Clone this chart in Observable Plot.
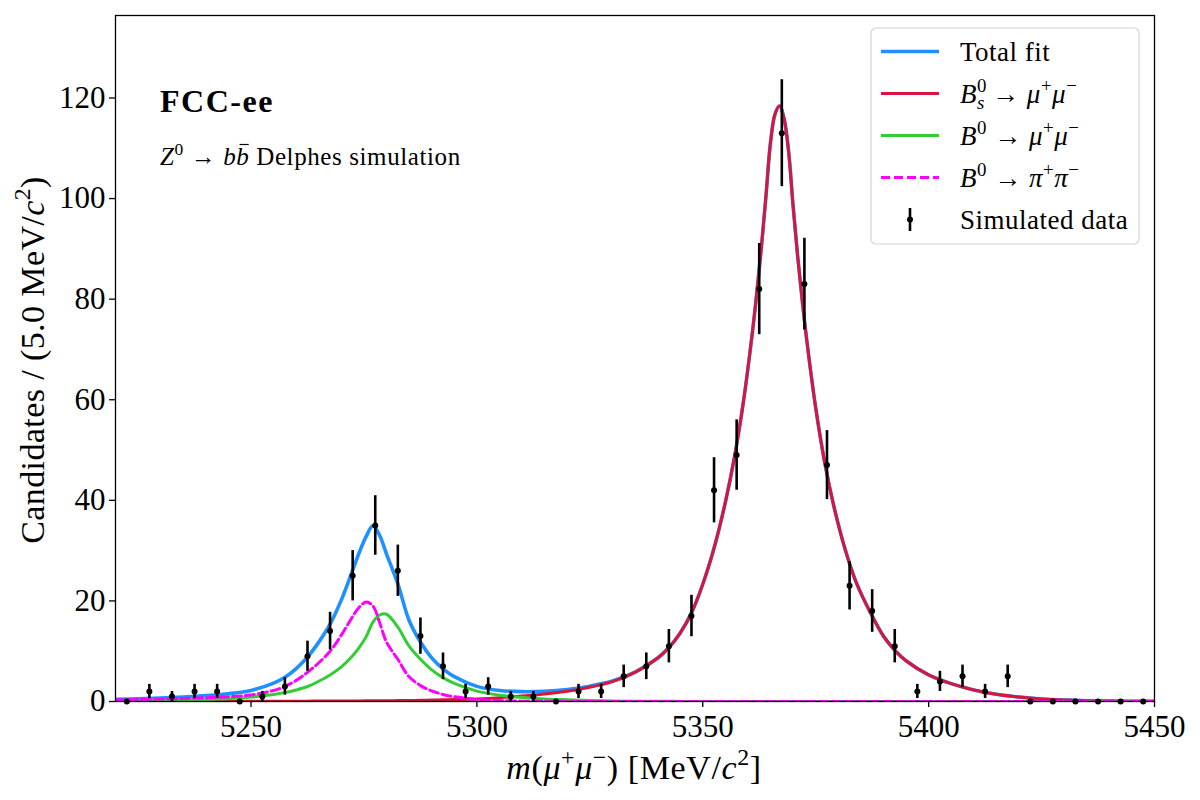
<!DOCTYPE html>
<html>
<head>
<meta charset="utf-8">
<script src="https://cdn.jsdelivr.net/npm/d3@7"></script>
<script src="https://cdn.jsdelivr.net/npm/@observablehq/plot@0.6"></script>
<style>
  html, body { margin: 0; padding: 0; background: #fff; }
  #chart svg { display: block; }
</style>
</head>
<body>
<div id="chart"></div>
<script>
// ---------------- data ----------------
const binCenters = [5222.5, 5227.5, 5232.5, 5237.5, 5242.5, 5247.5, 5252.5, 5257.5, 5262.5, 5267.5,
  5272.5, 5277.5, 5282.5, 5287.5, 5292.5, 5297.5, 5302.5, 5307.5, 5312.5, 5317.5,
  5322.5, 5327.5, 5332.5, 5337.5, 5342.5, 5347.5, 5352.5, 5357.5, 5362.5, 5367.5,
  5372.5, 5377.5, 5382.5, 5387.5, 5392.5, 5397.5, 5402.5, 5407.5, 5412.5, 5417.5,
  5422.5, 5427.5, 5432.5, 5437.5, 5442.5, 5447.5];
const counts = [0, 2, 1, 2, 2, 0, 1, 3, 9, 14,
  25, 35, 26, 13, 7, 2, 3, 1, 1, 0,
  2, 2, 5, 7, 11, 17, 42, 49, 82, 113,
  83, 47, 23, 18, 11, 2, 4, 5, 2, 5,
  0, 0, 0, 0, 0, 0];
const countErrors = [0, 1.41, 1, 1.41, 1.41, 0, 1, 1.73, 3, 3.74,
  5, 5.92, 5.1, 3.61, 2.65, 1.41, 1.73, 1, 1, 0,
  1.41, 1.41, 2.24, 2.65, 3.32, 4.12, 6.48, 7, 9.06, 10.63,
  9.11, 6.86, 4.8, 4.24, 3.32, 1.41, 2, 2.24, 1.41, 2.24,
  0, 0, 0, 0, 0, 0];

const fitMass = [5220, 5225, 5230, 5235, 5240, 5245, 5250, 5255, 5257.5, 5260,
  5262.5, 5265, 5267.5, 5270, 5272.5, 5274, 5275.5, 5277, 5278.5, 5280,
  5282.5, 5285, 5287.5, 5290, 5292.5, 5295, 5300, 5305, 5310, 5315,
  5320, 5325, 5330, 5335, 5340, 5342.5, 5345, 5347.5, 5350, 5352.5,
  5355, 5357, 5359, 5361, 5362, 5363, 5364, 5365, 5366, 5367,
  5368, 5369, 5370, 5371, 5372, 5373, 5375, 5377, 5379, 5381.5,
  5384, 5387.5, 5390, 5392.5, 5395, 5400, 5405, 5410, 5415, 5420,
  5425, 5430, 5435, 5440, 5450];
const fitBs = [0.01, 0.01, 0.02, 0.02, 0.03, 0.03, 0.04, 0.05, 0.05, 0.06,
  0.07, 0.08, 0.09, 0.10, 0.11, 0.12, 0.13, 0.14, 0.15, 0.16,
  0.18, 0.21, 0.24, 0.28, 0.33, 0.39, 0.52, 0.75, 1.08, 1.5,
  2.05, 2.85, 3.95, 5.8, 8.6, 10.7, 13.6, 17.6, 23.3, 30.5,
  39.6, 48.5, 59.6, 73.5, 81.6, 90.5, 100.6, 111.2, 116.8, 118.4,
  115.9, 109.4, 98.5, 88.6, 79.9, 72.0, 58.4, 47.5, 38.9, 30.3,
  23.6, 17.0, 13.0, 10.2, 8.1, 5.3, 3.55, 2.3, 1.45, 0.88,
  0.5, 0.28, 0.15, 0.09, 0.03];
const fitBdMuMu = [0.11, 0.14, 0.2, 0.28, 0.4, 0.57, 0.87, 1.4, 1.76, 2.29,
  2.98, 4.03, 5.29, 6.9, 9.1, 10.8, 12.9, 15.8, 17.2, 17.35,
  14.8, 11.0, 8.4, 6.3, 4.75, 3.6, 2.07, 1.26, 0.81, 0.51,
  0.34, 0.2, 0.11, 0.06, 0.035, 0.03, 0.02, 0.015, 0.01, 0,
  0, 0, 0, 0, 0, 0, 0, 0, 0, 0,
  0, 0, 0, 0, 0, 0, 0, 0, 0, 0,
  0, 0, 0, 0, 0, 0, 0, 0, 0, 0,
  0, 0, 0, 0, 0];
const fitBdPiPi = [0.3, 0.38, 0.48, 0.6, 0.75, 0.95, 1.3, 2.2, 3.0, 4.2,
  5.8, 7.7, 10.0, 13.2, 16.9, 18.8, 19.8, 19.0, 15.6, 11.8,
  8.4, 4.9, 3.2, 2.1, 1.4, 0.95, 0.42, 0.18, 0.07, 0.03,
  0.01, 0, 0, 0, 0, 0, 0, 0, 0, 0,
  0, 0, 0, 0, 0, 0, 0, 0, 0, 0,
  0, 0, 0, 0, 0, 0, 0, 0, 0, 0,
  0, 0, 0, 0, 0, 0, 0, 0, 0, 0,
  0, 0, 0, 0, 0];
const fitTotal = [0.42, 0.53, 0.70, 0.90, 1.18, 1.55, 2.21, 3.65, 4.81, 6.55,
  8.85, 11.81, 15.38, 20.2, 26.11, 29.72, 32.83, 34.94, 32.95, 29.31,
  23.38, 16.11, 11.84, 8.68, 6.48, 4.94, 3.01, 2.19, 1.96, 2.04,
  2.40, 3.05, 4.06, 5.86, 8.64, 10.73, 13.62, 17.62, 23.31, 30.5,
  39.6, 48.5, 59.6, 73.5, 81.6, 90.5, 100.6, 111.2, 116.8, 118.4,
  115.9, 109.4, 98.5, 88.6, 79.9, 72.0, 58.4, 47.5, 38.9, 30.3,
  23.6, 17.0, 13.0, 10.2, 8.1, 5.3, 3.55, 2.3, 1.45, 0.88,
  0.5, 0.28, 0.15, 0.09, 0.03];

const xTicks = [5250, 5300, 5350, 5400, 5450];
const yTicks = [0, 20, 40, 60, 80, 100, 120];

// ---------------- styling ----------------
const FONT = "'Liberation Serif', 'Times New Roman', serif";
const C_TOTAL = "#1E90FF", C_BS = "#DC143C", C_BD = "#32CD32", C_PP = "#FF00FF";

const data = binCenters.map((m, i) => ({m, n: counts[i], e: countErrors[i]}));
const fit = fitMass.map((m, i) => ({m, total: fitTotal[i], bs: fitBs[i], bd: fitBdMuMu[i], pp: fitBdPiPi[i]}));

const plot = Plot.plot({
  width: 1200,
  height: 800,
  marginLeft: 115,
  marginRight: 46,
  marginTop: 15,
  marginBottom: 99,
  style: {fontFamily: FONT, fontSize: "31px", background: "#fff", color: "#000"},
  x: {domain: [5220, 5450]},
  y: {domain: [0, 136.4]},
  marks: [
    Plot.line(fit, {x: "m", y: "total", stroke: C_TOTAL, strokeWidth: 3.6, curve: "catmull-rom", clip: true}),
    Plot.line(fit, {x: "m", y: "bs", stroke: C_BS, strokeWidth: 3, curve: "catmull-rom", clip: true}),
    Plot.line(fit, {x: "m", y: "bd", stroke: C_BD, strokeWidth: 3, curve: "catmull-rom", clip: true}),
    Plot.line(fit, {x: "m", y: "pp", stroke: C_PP, strokeWidth: 3, strokeDasharray: "9,4", curve: "catmull-rom", clip: true}),
    Plot.ruleX(data.filter(d => d.e > 0), {x: "m", y1: d => d.n - d.e, y2: d => d.n + d.e, stroke: "#000", strokeWidth: 2.6}),
    Plot.dot(data, {x: "m", y: "n", r: 3, fill: "#000", stroke: "none"}),
    Plot.frame({stroke: "#000", strokeWidth: 1.3}),
    Plot.axisX({ticks: xTicks, tickFormat: d => String(d), tickSize: 6, tickPadding: 7, label: null, strokeWidth: 1.3}),
    Plot.axisY({ticks: yTicks, tickFormat: d => String(d), tickSize: 6, tickPadding: 4, label: null, strokeWidth: 1.3})
  ]
});
document.getElementById("chart").appendChild(plot);

// ---------------- rich text helper ----------------
// flags: i = italic, ^ = superscript, _ = subscript, k = stack under previous, o = overline, b = bold
function rich(text, parts, size) {
  let prev = null;
  parts.forEach(([s, f]) => {
    const t = text.append("tspan").text(s);
    if (f.includes("i")) t.attr("font-style", "italic");
    if (f.includes("b")) t.attr("font-weight", "bold");
    if (f.includes("^")) t.attr("font-size", size * 0.7).attr("baseline-shift", (size * 0.42) + "px");
    if (f.includes("_")) t.attr("font-size", size * 0.7).attr("baseline-shift", (-size * 0.22) + "px");
    if (f.includes("k") && prev) t.attr("dx", -prev.node().getComputedTextLength());
    if (f.includes("o")) {
      const bb = t.node().getBBox();
      d3.select(text.node().parentNode).append("line")
        .attr("x1", bb.x + bb.width * 0.25).attr("x2", bb.x + bb.width * 0.95)
        .attr("y1", bb.y + 1.5).attr("y2", bb.y + 1.5)
        .attr("stroke", "#000").attr("stroke-width", 1.2);
    }
    prev = t;
  });
  return text;
}

const svg = d3.select(plot);
const layer = svg.append("g").attr("font-family", FONT).attr("fill", "#000").attr("text-anchor", "start");

// annotations
rich(layer.append("text").attr("x", 160).attr("y", 112).attr("font-size", 32).attr("letter-spacing", 1.5),
  [["FCC-ee", "b"]], 32);
const zText = layer.append("g");
rich(zText.append("text").attr("x", 160).attr("y", 165).attr("font-size", 25).attr("letter-spacing", 0.6),
  [["Z", "i"], ["0", "^"], [" \u2192 ", ""], ["b", "i"], ["b", "io"], [" Delphes simulation", ""]], 25);

// axis labels
rich(layer.append("text").attr("x", 634).attr("y", 779).attr("text-anchor", "middle").attr("font-size", 34).attr("letter-spacing", 0.6),
  [["m", "i"], ["(", ""], ["\u03bc", "i"], ["+", "^"], ["\u03bc", "i"], ["\u2212", "^"], [") [MeV/", ""], ["c", "i"], ["2", "^"], ["]", ""]], 34);
rich(layer.append("text").attr("transform", "translate(44,360) rotate(-90)").attr("text-anchor", "middle").attr("font-size", 34).attr("letter-spacing", 0.4),
  [["Candidates / (5.0 MeV/", ""], ["c", "i"], ["2", "^"], [")", ""]], 34);

// legend
const legendEntries = [
  {y: 51.5, kind: "line", color: C_TOTAL, width: 3.6, dash: null, parts: [["Total fit", ""]]},
  {y: 93.5, kind: "line", color: C_BS, width: 3, dash: null, parts: [["B", "i"], ["0", "^"], ["s", "_ik"], [" \u2192 ", ""], ["\u03bc", "i"], ["+", "^"], ["\u03bc", "i"], ["\u2212", "^"]]},
  {y: 135.5, kind: "line", color: C_BD, width: 3, dash: null, parts: [["B", "i"], ["0", "^"], [" \u2192 ", ""], ["\u03bc", "i"], ["+", "^"], ["\u03bc", "i"], ["\u2212", "^"]]},
  {y: 177.5, kind: "line", color: C_PP, width: 3, dash: "9,4", parts: [["B", "i"], ["0", "^"], [" \u2192 ", ""], ["\u03c0", "i"], ["+", "^"], ["\u03c0", "i"], ["\u2212", "^"]]},
  {y: 219.5, kind: "data", parts: [["Simulated data", ""]]}
];
const lg = layer.append("g");
lg.append("rect").attr("x", 871).attr("y", 28).attr("width", 268).attr("height", 216).attr("rx", 5)
  .attr("fill", "#fff").attr("fill-opacity", 0.8).attr("stroke", "#d4d4d4").attr("stroke-width", 1.2);
legendEntries.forEach(e => {
  if (e.kind === "line") {
    const l = lg.append("line").attr("x1", 881).attr("x2", 939).attr("y1", e.y).attr("y2", e.y)
      .attr("stroke", e.color).attr("stroke-width", e.width);
    if (e.dash) l.attr("stroke-dasharray", e.dash);
  } else {
    lg.append("line").attr("x1", 910).attr("x2", 910).attr("y1", e.y - 11.5).attr("y2", e.y + 11.5)
      .attr("stroke", "#000").attr("stroke-width", 2.6);
    lg.append("circle").attr("cx", 910).attr("cy", e.y).attr("r", 3).attr("fill", "#000");
  }
  rich(lg.append("text").attr("x", 960).attr("y", e.y + 9).attr("font-size", 27).attr("letter-spacing", 0.5), e.parts, 27);
});
</script>
</body>
</html>
